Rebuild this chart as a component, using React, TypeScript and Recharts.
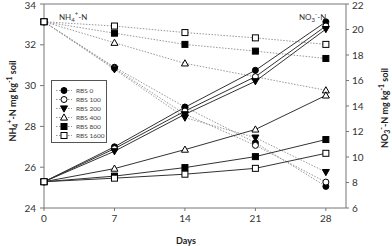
import { ComposedChart, Line, XAxis, YAxis, ReferenceLine } from "recharts";

const days = [0, 7, 14, 21, 28];
const dayTicks = [0, 7, 14, 21, 28];
const leftTicks = [24, 26, 28, 30, 32, 34];
const rightTicks = [6, 8, 10, 12, 14, 16, 18, 20, 22];
const legendLabels = ["RBS 0", "RBS 100", "RBS 200", "RBS 400", "RBS 800", "RBS 1600"];

// NH4+-N (left axis, dotted)
const nh4Rbs0 = [33.13, 30.9, 28.95, 27.2, 25.06];
const nh4Rbs100 = [33.13, 30.85, 28.6, 27.07, 25.27];
const nh4Rbs200 = [33.13, 30.8, 28.43, 27.45, 25.76];
const nh4Rbs400 = [33.13, 32.1, 31.09, 30.43, 29.77];
const nh4Rbs800 = [33.13, 32.57, 32.02, 31.69, 31.33];
const nh4Rbs1600 = [33.13, 32.92, 32.6, 32.34, 32.02];

// NO3--N (right axis, solid)
const no3Rbs0 = [8.06, 10.8, 13.9, 16.8, 20.6];
const no3Rbs100 = [8.06, 10.65, 13.6, 16.3, 20.27];
const no3Rbs200 = [8.06, 10.45, 13.35, 15.94, 20.03];
const no3Rbs400 = [8.06, 9.09, 10.58, 12.16, 14.83];
const no3Rbs800 = [8.06, 8.5, 9.17, 10.03, 11.37];
const no3Rbs1600 = [8.06, 8.34, 8.65, 9.11, 10.29];

const nh4 = [nh4Rbs0, nh4Rbs100, nh4Rbs200, nh4Rbs400, nh4Rbs800, nh4Rbs1600];
const no3 = [no3Rbs0, no3Rbs100, no3Rbs200, no3Rbs400, no3Rbs800, no3Rbs1600];

const markers = [
  { shape: "circle", filled: true },
  { shape: "circle", filled: false },
  { shape: "down", filled: true },
  { shape: "up", filled: false },
  { shape: "square", filled: true },
  { shape: "square", filled: false },
];

const data = days.map((d, i) => {
  const row: any = { day: d };
  nh4.forEach((s, k) => (row[`nh4_${k}`] = s[i]));
  no3.forEach((s, k) => (row[`no3_${k}`] = s[i]));
  return row;
});

const FONT = "Lato, 'Liberation Sans', sans-serif";

function Marker({ cx, cy, shape, filled }: any) {
  if (cx == null || cy == null) return null;
  const fill = filled ? "#000" : "#fff";
  const common = { fill, stroke: "#000", strokeWidth: 1 };
  if (shape === "circle") return <circle cx={cx} cy={cy} r={3} {...common} />;
  if (shape === "square") return <rect x={cx - 3} y={cy - 3} width={6} height={6} {...common} />;
  if (shape === "up")
    return <polygon points={`${cx},${cy - 3.6} ${cx + 3.5},${cy + 2.6} ${cx - 3.5},${cy + 2.6}`} {...common} />;
  return <polygon points={`${cx},${cy + 3.6} ${cx + 3.5},${cy - 2.6} ${cx - 3.5},${cy - 2.6}`} {...common} />;
}

const dotFor = (k: number) => (p: any) =>
  <Marker key={p.key ?? `${k}-${p.index}`} cx={p.cx} cy={p.cy} shape={markers[k].shape} filled={markers[k].filled} />;

function Legend() {
  return (
    <div
      style={{
        position: "absolute",
        left: 51,
        top: 80,
        width: 56,
        height: 63,
        border: "1px solid #555",
        background: "#fff",
        boxSizing: "border-box",
        paddingTop: 5,
      }}
    >
      {legendLabels.map((l, k) => (
        <div key={l} style={{ display: "flex", alignItems: "center", height: 9 }}>
          <svg width={22} height={9}>
            <line x1={4} x2={20} y1={4.5} y2={4.5} stroke="#999" strokeDasharray="1.5 1.5" />
            <Marker cx={12} cy={4.5} shape={markers[k].shape} filled={markers[k].filled} />
          </svg>
          <span style={{ fontSize: 6.5, color: "#444", fontFamily: FONT, marginLeft: 2 }}>{l}</span>
        </div>
      ))}
    </div>
  );
}

export default function App() {
  return (
    <div style={{ position: "absolute", left: 0, top: 0, width: 392, height: 246, background: "#fff" }}>
      <ComposedChart width={392} height={246} data={data} margin={{ top: 4, right: 0, bottom: 0, left: 0 }}>
        <XAxis
          dataKey="day"
          type="number"
          domain={[0, 30]}
          ticks={dayTicks}
          height={38}
          stroke="#777"
          tickSize={3}
          tickMargin={4}
          tick={{ fontSize: 10, fill: "#333", fontFamily: FONT }}
        />
        <YAxis
          yAxisId="left"
          domain={[24, 34]}
          ticks={leftTicks}
          width={44}
          stroke="#777"
          tickSize={4}
          tickMargin={4}
          tick={{ fontSize: 10, fill: "#333", fontFamily: FONT }}
        />
        <YAxis
          yAxisId="right"
          orientation="right"
          domain={[6, 22]}
          ticks={rightTicks}
          width={46}
          stroke="#777"
          tickSize={3}
          tickMargin={3}
          tick={{ fontSize: 10, fill: "#333", fontFamily: FONT }}
        />
        <ReferenceLine yAxisId="left" y={34} stroke="#777" />
        {nh4.map((_, k) => (
          <Line
            key={`nh4_${k}`}
            yAxisId="left"
            type="linear"
            dataKey={`nh4_${k}`}
            stroke="#999"
            strokeWidth={1}
            strokeDasharray="1.5 1.5"
            dot={dotFor(k)}
            activeDot={false}
            isAnimationActive={false}
          />
        ))}
        {no3.map((_, k) => (
          <Line
            key={`no3_${k}`}
            yAxisId="right"
            type="linear"
            dataKey={`no3_${k}`}
            stroke="#333"
            strokeWidth={1}
            dot={dotFor(k)}
            activeDot={false}
            isAnimationActive={false}
          />
        ))}
      </ComposedChart>
      <Legend />
      <div style={{ position: "absolute", left: 59, top: 10, fontSize: 8, color: "#333", fontFamily: FONT }}>
        NH<sub style={{ fontSize: 6 }}>4</sub>
        <sup style={{ fontSize: 6 }}>+</sup>-N
      </div>
      <div style={{ position: "absolute", left: 299, top: 10, fontSize: 8, color: "#333", fontFamily: FONT }}>
        NO<sub style={{ fontSize: 6 }}>3</sub>
        <sup style={{ fontSize: 6 }}>-</sup>-N
      </div>
      <div
        style={{
          position: "absolute",
          left: 12,
          top: 101,
          transform: "translate(-50%, -50%) rotate(-90deg)",
          whiteSpace: "nowrap",
          fontSize: 9,
          fontWeight: "bold",
          color: "#222",
          fontFamily: FONT,
        }}
      >
        NH<sub style={{ fontSize: 7 }}>4</sub>
        <sup style={{ fontSize: 7 }}>+</sup>-N mg kg<sup style={{ fontSize: 7 }}>-1</sup> soil
      </div>
      <div
        style={{
          position: "absolute",
          left: 384,
          top: 108,
          transform: "translate(-50%, -50%) rotate(-90deg)",
          whiteSpace: "nowrap",
          fontSize: 9,
          fontWeight: "bold",
          color: "#222",
          fontFamily: FONT,
        }}
      >
        NO<sub style={{ fontSize: 7 }}>3</sub>
        <sup style={{ fontSize: 7 }}>-</sup>-N mg kg<sup style={{ fontSize: 7 }}>-1</sup> soil
      </div>
      <div
        style={{
          position: "absolute",
          left: 186,
          top: 240,
          transform: "translate(-50%, -50%)",
          fontSize: 9,
          fontWeight: "bold",
          color: "#222",
          fontFamily: FONT,
        }}
      >
        Days
      </div>
    </div>
  );
}
